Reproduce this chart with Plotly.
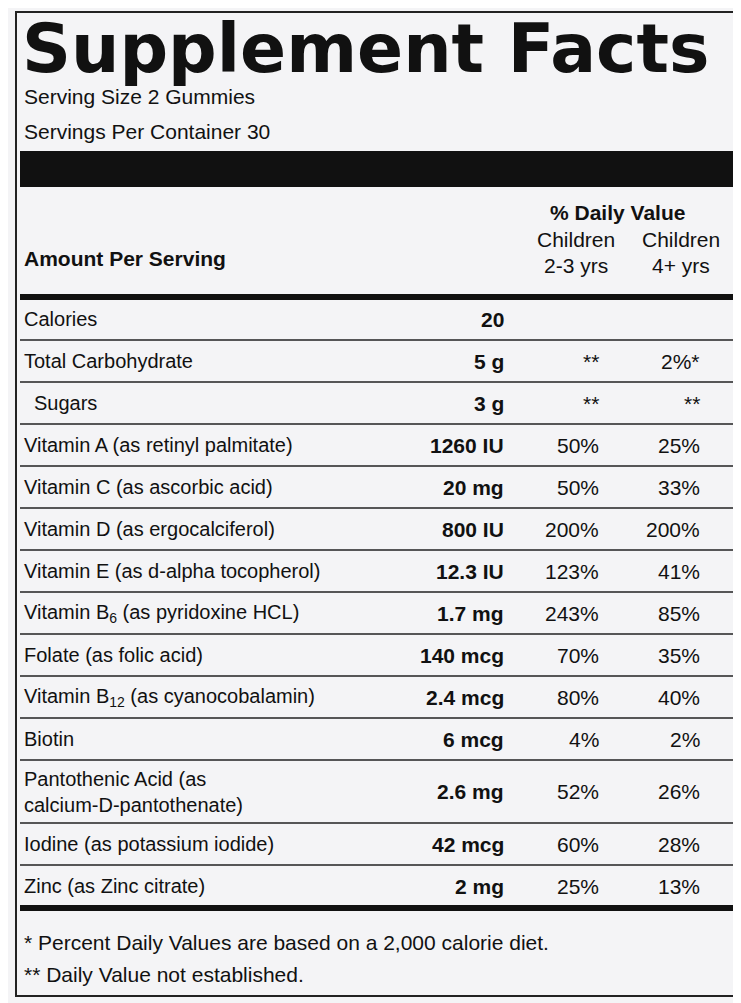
import plotly.graph_objects as go

# Label data
labels = ["Calories", "Total Carbohydrate", "  Sugars",
          "Vitamin A (as retinyl palmitate)", "Vitamin C (as ascorbic acid)",
          "Vitamin D (as ergocalciferol)", "Vitamin E (as d-alpha tocopherol)",
          "Vitamin B<sub>6</sub> (as pyridoxine HCL)", "Folate (as folic acid)",
          "Vitamin B<sub>12</sub> (as cyanocobalamin)", "Biotin",
          "Pantothenic Acid (as<br>calcium-D-pantothenate)",
          "Iodine (as potassium iodide)", "Zinc (as Zinc citrate)"]
amounts = ["20", "5 g", "3 g", "1260 IU", "20 mg", "800 IU", "12.3 IU", "1.7 mg",
           "140 mcg", "2.4 mcg", "6 mcg", "2.6 mg", "42 mcg", "2 mg"]
dv_2_3 = ["", "**", "**", "50%", "50%", "200%", "123%", "243%", "70%", "80%",
          "4%", "52%", "60%", "25%"]
dv_4plus = ["", "2%*", "**", "25%", "33%", "200%", "41%", "85%", "35%", "40%",
            "2%", "26%", "28%", "13%"]
footnotes = ["* Percent Daily Values are based on a 2,000 calorie diet.",
             "** Daily Value not established."]

FONT = "Liberation Sans Narrow, Liberation Sans, Arial"
W, H = 741, 1003
L, R = 12, 728
DX = -8  # annotation offset correction

fig = go.Figure()
shapes, ann = [], []

def text(x, y, s, size=21, bold=False, anchor="left", family=FONT):
    if bold:
        s = "<b>" + s + "</b>"
    ann.append(dict(x=x + DX, y=y, text=s, showarrow=False, xanchor=anchor,
                    yanchor="middle", align="left",
                    font=dict(family=family, size=size, color="#111")))

def bar(y0, y1, x0=L, x1=R):
    shapes.append(dict(type="rect", x0=x0, x1=x1, y0=y0, y1=y1,
                       fillcolor="#111", line_width=0))

# outer border
shapes.append(dict(type="rect", x0=8, x1=731, y0=4, y1=988,
                   line=dict(color="#222", width=2)))

text(20, 40, "Supplement Facts", size=68, bold=True, family="Arial Black, DejaVu Sans")
text(22, 88, "Serving Size 2 Gummies")
text(22, 123, "Servings Per Container 30")
bar(143, 179)
text(617, 204, "% Daily Value", bold=True, anchor="center")
text(576, 231, "Children", anchor="center")
text(681, 231, "Children", anchor="center")
text(576, 257, "2-3 yrs", anchor="center")
text(681, 257, "4+ yrs", anchor="center")
text(22, 250, "Amount Per Serving", bold=True)
bar(286, 292)

y = 290
for i, lab in enumerate(labels):
    h = 21 + 21 * (lab.count("<br>") + 1)
    cy = y + h / 2
    text(32 if lab.startswith("  ") else 22, cy, lab.strip(), size=20)
    text(506, cy, amounts[i], bold=True, anchor="right")
    text(601, cy, dv_2_3[i], anchor="right")
    text(702, cy, dv_4plus[i], anchor="right")
    y += h
    if i < len(labels) - 1:
        shapes.append(dict(type="line", x0=L, x1=R, y0=y, y1=y,
                           line=dict(color="#222", width=1.5)))
bar(y - 2, y + 4)
text(22, 934, footnotes[0])
text(22, 966, footnotes[1])

fig.update_layout(
    width=W, height=H, margin=dict(l=0, r=0, t=0, b=0),
    paper_bgcolor="#f4f4f6", plot_bgcolor="#f4f4f6",
    xaxis=dict(range=[0, W], visible=False, fixedrange=True),
    yaxis=dict(range=[H, 0], visible=False, fixedrange=True),
    shapes=shapes, annotations=ann, showlegend=False,
)
fig.write_html("out.html")
